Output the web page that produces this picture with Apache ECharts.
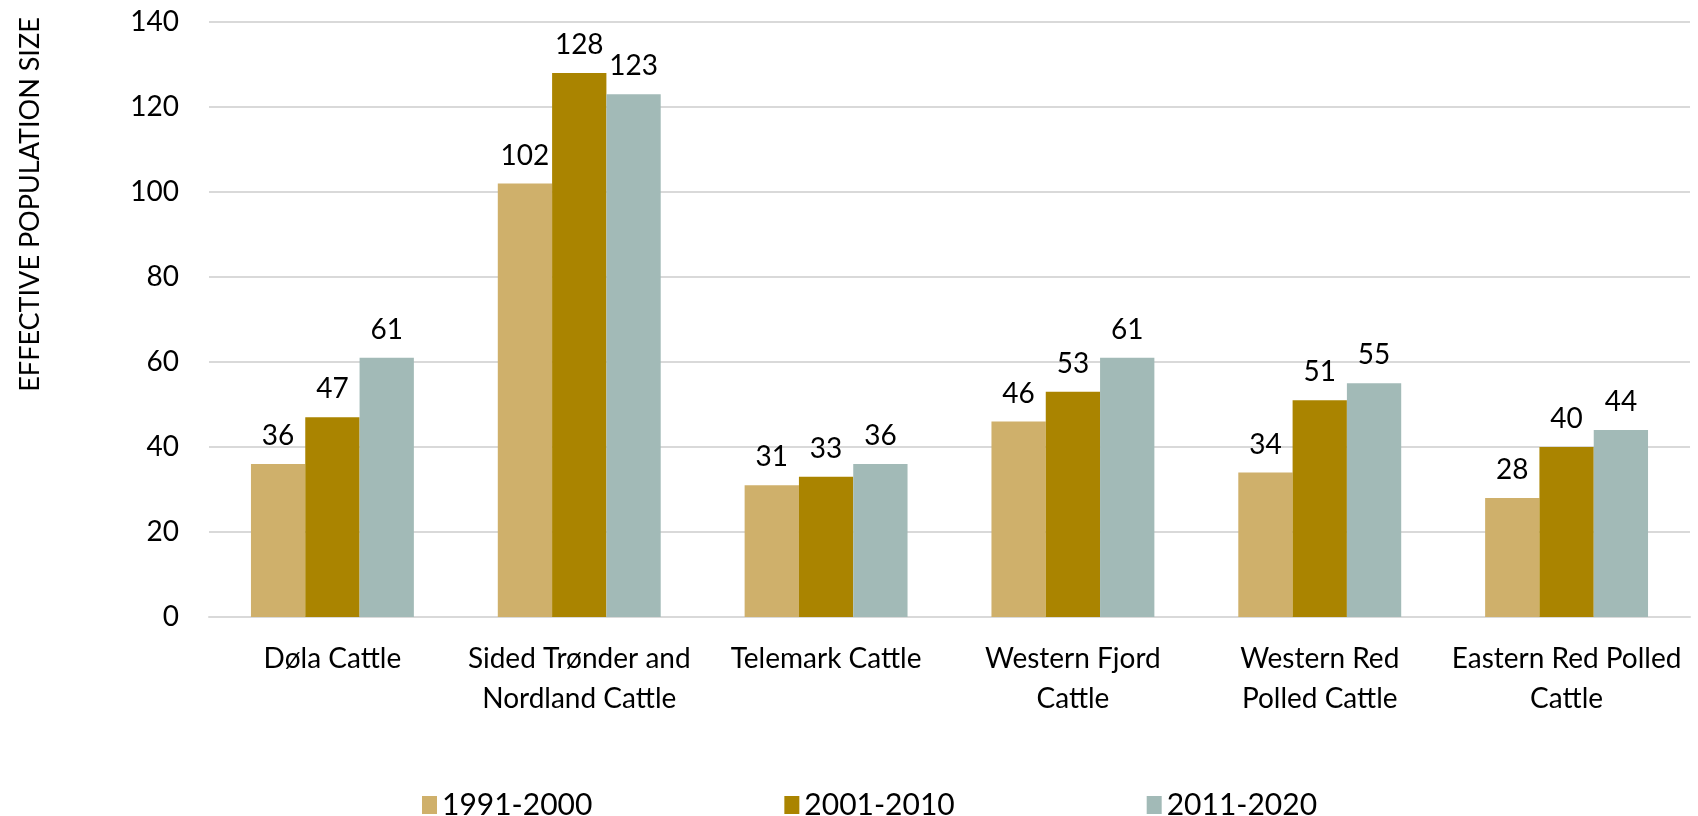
<!DOCTYPE html>
<html>
<head>
<meta charset="utf-8">
<script src="https://cdn.jsdelivr.net/npm/echarts@6/dist/echarts.min.js"></script>
<style>
  html, body { margin: 0; padding: 0; background: #fff; }
  #chart-main { width: 1698px; height: 816px; }
</style>
</head>
<body>
<div id="chart-main"></div>
<script>
// breeds (line breaks as in the original axis labels)
const categories = [
  'Døla Cattle',
  'Sided Trønder and\nNordland Cattle',
  'Telemark Cattle',
  'Western Fjord\nCattle',
  'Western Red\nPolled Cattle',
  'Eastern Red Polled\nCattle'
];
const periods = ['1991-2000', '2001-2010', '2011-2020'];
const values1991 = [36, 102, 31, 46, 34, 28];
const values2001 = [47, 128, 33, 53, 51, 40];
const values2011 = [61, 123, 36, 61, 55, 44];
const yTicks = { min: 0, max: 140, interval: 20 };

const colors = ['#CFB06B', '#AA8400', '#A2BAB7'];
const font = 'Lato, "Open Sans", sans-serif';

let myChart = echarts.init(document.getElementById('chart-main'));

function makeSeries(name, data, color) {
  return {
    name: name,
    type: 'bar',
    data: data,
    barGap: '0%',
    barCategoryGap: '34%',
    itemStyle: { color: color },
    label: {
      show: true,
      position: 'top',
      distance: 14,
      color: '#000',
      fontFamily: font,
      fontSize: 28
    }
  };
}

let option = {
  animation: false,
  color: colors,
  textStyle: { fontFamily: font },
  grid: { left: 209, right: 8, top: 22, bottom: 199 },
  legend: {
    data: periods,
    left: 417,
    top: 785,
    itemWidth: 15,
    itemHeight: 18,
    itemGap: 192,
    textStyle: { fontFamily: font, fontSize: 30, color: '#000' },
    icon: 'rect'
  },
  xAxis: {
    type: 'category',
    data: categories,
    axisTick: { show: false },
    axisLine: { lineStyle: { color: '#d9d9d9', width: 2 } },
    axisLabel: {
      interval: 0,
      margin: 22,
      color: '#000',
      fontFamily: font,
      fontSize: 28,
      lineHeight: 40
    }
  },
  yAxis: {
    type: 'value',
    min: yTicks.min,
    max: yTicks.max,
    interval: yTicks.interval,
    name: 'EFFECTIVE POPULATION SIZE',
    nameLocation: 'middle',
    nameRotate: 90,
    nameGap: 165,
    nameTextStyle: {
      fontFamily: font,
      fontSize: 27,
      color: '#000',
      padding: [0, 0, 0, 230]
    },
    axisLabel: {
      margin: 30,
      color: '#000',
      fontFamily: font,
      fontSize: 28
    },
    splitLine: { lineStyle: { color: '#d9d9d9', width: 2 } }
  },
  series: [
    makeSeries(periods[0], values1991, colors[0]),
    makeSeries(periods[1], values2001, colors[1]),
    makeSeries(periods[2], values2011, colors[2])
  ]
};

myChart.setOption(option);
</script>
</body>
</html>
